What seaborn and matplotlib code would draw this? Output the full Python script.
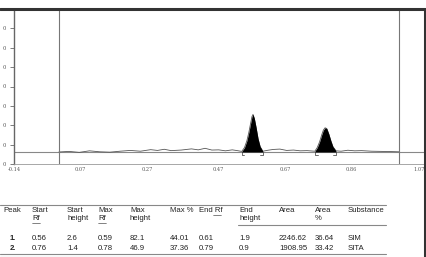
import numpy as np
import pandas as pd
import matplotlib
matplotlib.use("Agg")
import matplotlib.pyplot as plt
from matplotlib.lines import Line2D
import seaborn as sns

# densitometry trace (Rf vs signal)
rf = [0.0, 0.03, 0.06, 0.09, 0.12, 0.15, 0.18, 0.21, 0.24, 0.27, 0.29, 0.31,
      0.33, 0.36, 0.39, 0.41, 0.43, 0.45, 0.47, 0.49, 0.51, 0.525,
      0.538, 0.546, 0.553, 0.559, 0.564, 0.568, 0.571, 0.575, 0.58, 0.586, 0.592, 0.6,
      0.615, 0.63, 0.65, 0.67, 0.69, 0.71, 0.73, 0.745,
      0.753, 0.76, 0.767, 0.773, 0.778, 0.783, 0.788, 0.794, 0.8, 0.806, 0.815,
      0.83, 0.85, 0.87, 0.89, 0.92, 0.95, 0.98, 1.0]
signal = [6.2, 6.5, 6.0, 6.8, 6.3, 6.1, 6.6, 7.0, 6.6, 7.4, 7.0, 7.6,
          6.9, 7.2, 7.8, 7.3, 8.1, 7.2, 7.3, 6.8, 7.3, 6.9,
          6.5, 8.5, 12.0, 16.5, 21.0, 24.5, 25.6, 23.5, 19.0, 13.0, 9.0, 6.6,
          7.1, 7.5, 7.7, 7.0, 7.2, 6.8, 6.9, 6.7,
          6.6, 8.5, 11.5, 15.0, 17.5, 18.7, 18.3, 15.5, 12.0, 9.0, 6.8,
          6.6, 7.1, 6.8, 6.9, 6.6, 6.5, 6.4, 6.3]
baseline = 6.2
peak_start = [0.538, 0.753]
peak_end = [0.6, 0.815]

xtick_pos = [-0.13, 0.062, 0.26, 0.47, 0.665, 0.86, 1.06]
xtick_lbl = ["-0.14", "0.07", "0.27", "0.47", "0.67", "0.86", "1.07"]
ytick_pos = [0, 10, 20, 30, 40, 50, 60, 70]

# results table
headers1 = ["Peak", "Start", "Start", "Max", "Max", "Max %", "End Rf", "End", "Area", "Area", "Substance"]
headers2 = ["", "Rf", "height", "Rf", "height", "", "", "height", "", "%", ""]
peaks = ["1.", "2."]
start_rf = ["0.56", "0.76"]
start_h = ["2.6", "1.4"]
max_rf = ["0.59", "0.78"]
max_h = ["82.1", "46.9"]
max_pct = ["44.01", "37.36"]
end_rf = ["0.61", "0.79"]
end_h = ["1.9", "0.9"]
area = ["2246.62", "1908.95"]
area_pct = ["36.64", "33.42"]
substance = ["SIM", "SITA"]

sns.set_style("white")
plt.rcParams["font.family"] = ["Liberation Sans", "DejaVu Sans"]

W, H = 426, 257
fig = plt.figure(figsize=(W / 100, H / 100), dpi=100)

def fx(px):
    return px / W

def fy(py):
    return 1 - py / H

ax = fig.add_axes([fx(14), fy(164), fx(424) - fx(14), fy(9) - fy(164)])
df = pd.DataFrame({"rf": rf, "signal": signal})
ax.axhline(baseline, color="#888888", lw=0.8, zorder=1)
sns.lineplot(data=df, x="rf", y="signal", color="#555555", lw=0.6, ax=ax, zorder=2)
for s, e in zip(peak_start, peak_end):
    m = (df.rf >= s) & (df.rf <= e)
    ax.fill_between(df.rf[m], baseline, df.signal[m], color="black", lw=0, zorder=3)
    d = 0.008
    ax.plot([s + d, s, s], [4.9, 4.9, baseline], color="#555555", lw=0.6)
    ax.plot([e - d, e, e], [4.9, 4.9, baseline], color="#555555", lw=0.6)
ax.axvline(0.0, color="#777777", lw=0.8)
ax.axvline(1.0, color="#777777", lw=0.8)

ax.set_xlim(-0.132, 1.074)
ax.set_ylim(0, 80)
ax.set_xticks(xtick_pos)
ax.set_xticklabels(xtick_lbl, fontsize=3.6, color="#555555", family="DejaVu Serif")
ax.set_yticks(ytick_pos)
ax.set_yticklabels(["0"] * len(ytick_pos), fontsize=3.8, color="#555555", family="DejaVu Serif")
ax.tick_params(axis="x", length=0, pad=2)
ax.tick_params(axis="y", length=3, width=0.6, color="#666666", pad=3, left=True)
ax.set_xlabel("")
ax.set_ylabel("")
for side in ["top", "right"]:
    ax.spines[side].set_visible(False)
ax.spines["left"].set_color("#666666")
ax.spines["left"].set_linewidth(1.0)
ax.spines["bottom"].set_color("#999999")
ax.spines["bottom"].set_linewidth(0.6)

# frame lines of the report
fig.add_artist(Line2D([0, fx(425)], [fy(9), fy(9)], color="#333333", lw=2.2))
fig.add_artist(Line2D([fx(424.5), fx(424.5)], [fy(9), 0], color="#333333", lw=2.2))

# table
col_x = [3, 32, 67, 98, 130, 170, 199, 239, 279, 315, 348]
tcolor = "#222222"
fs = 5.6
fig.add_artist(Line2D([0, fx(386)], [fy(205), fy(205)], color="#888888", lw=0.8))
fig.add_artist(Line2D([fx(238), fx(386)], [fy(225), fy(225)], color="#888888", lw=0.8))
fig.add_artist(Line2D([0, fx(386)], [fy(254), fy(254)], color="#888888", lw=0.8))
fig.add_artist(Line2D([0, fx(386)], [fy(256.5), fy(256.5)], color="#888888", lw=0.8))
for x, h1, h2 in zip(col_x, headers1, headers2):
    fig.text(fx(x), fy(211), h1, fontsize=fs, color=tcolor, va="center", ha="left")
    if h2:
        fig.text(fx(x), fy(219), h2, fontsize=fs, color=tcolor, va="center", ha="left")
# underlined Rf
for x in [32, 98]:
    fig.add_artist(Line2D([fx(x), fx(x + 8)], [fy(222.5), fy(222.5)], color=tcolor, lw=0.4))
fig.add_artist(Line2D([fx(213), fx(221)], [fy(214.5), fy(214.5)], color=tcolor, lw=0.4))

rows = list(zip(start_rf, start_h, max_rf, max_h, max_pct, end_rf, end_h, area, area_pct, substance))
for i, (p, vals) in enumerate(zip(peaks, rows)):
    y = fy(238 + 10 * i)
    fig.text(fx(16), y, p, fontsize=fs, color=tcolor, va="center", ha="right", fontweight="bold")
    for x, v in zip(col_x[1:], vals):
        fig.text(fx(x), y, v, fontsize=fs, color=tcolor, va="center", ha="left")

fig.savefig("out.png", dpi=100)
